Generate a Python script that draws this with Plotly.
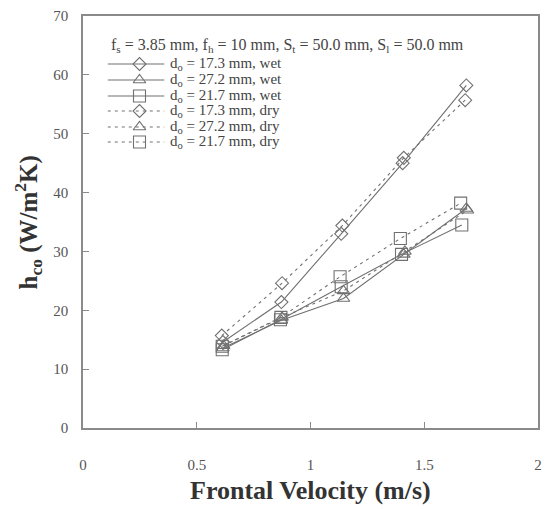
import plotly.graph_objects as go

# Data
x_d173_wet = [0.615, 0.872, 1.135, 1.405, 1.685]
y_d173_wet = [14.6, 21.4, 33.0, 45.0, 58.2]
x_d272_wet = [0.615, 0.872, 1.145, 1.410, 1.685]
y_d272_wet = [13.6, 18.3, 22.0, 29.5, 37.3]
x_d217_wet = [0.612, 0.868, 1.135, 1.400, 1.665]
y_d217_wet = [13.3, 18.4, 24.0, 29.5, 34.5]
x_d173_dry = [0.610, 0.875, 1.140, 1.410, 1.680]
y_d173_dry = [15.7, 24.6, 34.4, 45.9, 55.7]
x_d272_dry = [0.618, 0.875, 1.145, 1.415, 1.690]
y_d272_dry = [14.0, 18.8, 23.3, 30.0, 37.0]
x_d217_dry = [0.612, 0.870, 1.130, 1.395, 1.660]
y_d217_dry = [13.9, 18.8, 25.7, 32.2, 38.2]

names = ["d<sub>o</sub> = 17.3 mm, wet", "d<sub>o</sub> = 27.2 mm, wet", "d<sub>o</sub> = 21.7 mm, wet",
         "d<sub>o</sub> = 17.3 mm, dry", "d<sub>o</sub> = 27.2 mm, dry", "d<sub>o</sub> = 21.7 mm, dry"]
xs = [x_d173_wet, x_d272_wet, x_d217_wet, x_d173_dry, x_d272_dry, x_d217_dry]
ys = [y_d173_wet, y_d272_wet, y_d217_wet, y_d173_dry, y_d272_dry, y_d217_dry]
symbols = ["diamond-open", "triangle-up-open", "square-open"] * 2
dashes = ["solid"] * 3 + ["3px,4px"] * 3
msize = [10, 11, 12, 10, 11, 12]

GRAY = "#707070"
SERIF = "Liberation Serif"

W, H = 545, 509
L, R, T, B = 83, 3, 16, 81
PW, PH = W - L - R, H - T - B


def px(X):
    return (X - L) / PW


def py(Y):
    return (H - B - Y) / PH


fig = go.Figure()
for i in range(6):
    fig.add_trace(go.Scatter(
        x=xs[i], y=ys[i], name=names[i], mode="lines+markers", showlegend=False,
        line=dict(color=GRAY, width=1.1, dash=dashes[i]),
        marker=dict(symbol=symbols[i], size=msize[i], color=GRAY,
                    line=dict(color=GRAY, width=1.1)),
    ))

# Manual legend (compact rows like the reference) on an invisible overlay axis
row_y = [64, 80, 96, 111, 127, 142]
for i in range(6):
    yy = py(row_y[i])
    fig.add_trace(go.Scatter(
        x=[px(108), px(165)], y=[yy, yy], mode="lines", xaxis="x2", yaxis="y2",
        showlegend=False, hoverinfo="skip",
        line=dict(color=GRAY, width=1.1, dash=dashes[i]),
    ))
    fig.add_trace(go.Scatter(
        x=[px(140)], y=[yy], mode="markers", xaxis="x2", yaxis="y2",
        showlegend=False, hoverinfo="skip",
        marker=dict(symbol=symbols[i], size=msize[i], color=GRAY,
                    line=dict(color=GRAY, width=1.1)),
    ))
    fig.add_annotation(xref="paper", yref="paper", x=px(169), y=yy, xanchor="left", yanchor="middle",
                       text=names[i], showarrow=False,
                       font=dict(family=SERIF, size=15, color="#444444"))

fig.update_layout(
    width=W, height=H,
    margin=dict(l=L, r=R, t=T, b=B),
    paper_bgcolor="white", plot_bgcolor="white",
    font=dict(family=SERIF, color="#555555"),
    showlegend=False,
    xaxis=dict(range=[0, 2], tickvals=[0, 0.5, 1, 1.5, 2], ticktext=["0", "0.5", "1", "1.5", "2"],
               showgrid=False, zeroline=False, showline=True, mirror=True,
               linecolor="#8a8a8a", linewidth=1.5, ticks="inside", ticklen=6,
               tickcolor="#8a8a8a", tickwidth=1.2,
               tickfont=dict(family=SERIF, size=15, color="#555555"),
               ticklabelstandoff=22),
    yaxis=dict(range=[0, 70], tickvals=[0, 10, 20, 30, 40, 50, 60, 70],
               showgrid=False, zeroline=False, showline=True, mirror=True,
               linecolor="#8a8a8a", linewidth=1.5, ticks="inside", ticklen=6,
               tickcolor="#8a8a8a", tickwidth=1.2,
               tickfont=dict(family=SERIF, size=15, color="#555555"),
               ticklabelstandoff=10),
    xaxis2=dict(overlaying="x", range=[0, 1], visible=False, fixedrange=True),
    yaxis2=dict(overlaying="y", range=[0, 1], visible=False, fixedrange=True),
)

fig.add_annotation(xref="paper", yref="paper", x=0.5, y=py(490), xanchor="center", yanchor="middle",
                   text="<b>Frontal Velocity (m/s)</b>", showarrow=False,
                   font=dict(family=SERIF, size=26, color="#333333"))
fig.add_annotation(xref="paper", yref="paper", x=px(28), y=py(222), xanchor="center", yanchor="middle",
                   text="<b>h<sub>co</sub> (W/m<sup>2</sup>K)</b>", textangle=-90, showarrow=False,
                   font=dict(family=SERIF, size=25, color="#333333"))
fig.add_annotation(xref="paper", yref="paper", x=px(109), y=py(46), xanchor="left", yanchor="middle",
                   text="f<sub>s</sub> = 3.85 mm, f<sub>h</sub> = 10 mm, S<sub>t</sub> = 50.0 mm, S<sub>l</sub> = 50.0 mm",
                   showarrow=False, font=dict(family=SERIF, size=16, color="#444444"))

fig.write_html("out.html")
